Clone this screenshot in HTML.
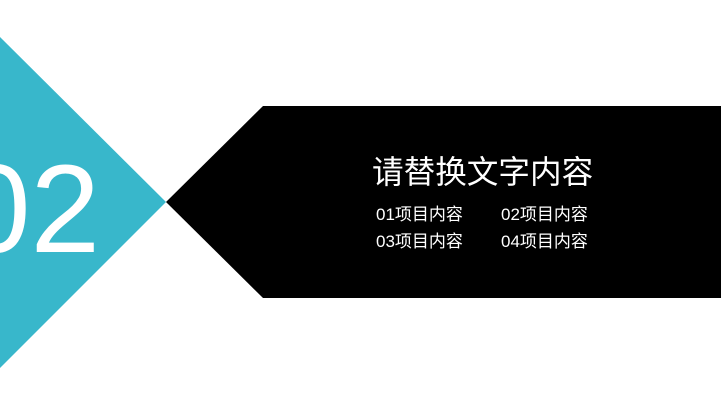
<!DOCTYPE html>
<html><head><meta charset="utf-8"><style>
html,body{margin:0;padding:0;background:#fff;}
body{width:721px;height:405px;overflow:hidden;position:relative;}
svg{position:absolute;left:0;top:0;}
</style></head><body>
<svg width="721" height="405" viewBox="0 0 721 405">
<polygon points="0,37 166,202 0,368" fill="#38b7cb"/>
<polygon points="166,202 263,106 721,106 721,298 263,298" fill="#000"/>
<text x="100" y="252" text-anchor="end" font-family="Liberation Sans, sans-serif" font-size="125" fill="#fff">02</text>
<g font-family="Liberation Sans, 'Noto Sans CJK SC', sans-serif" fill="#fff">
<text x="372" y="183" font-size="31.6">请替换文字内容</text>
<text x="376" y="220" font-size="17">01项目内容</text>
<text x="501" y="220" font-size="17">02项目内容</text>
<text x="376" y="247" font-size="17">03项目内容</text>
<text x="501" y="247" font-size="17">04项目内容</text>
</g>
</svg>
</body></html>
